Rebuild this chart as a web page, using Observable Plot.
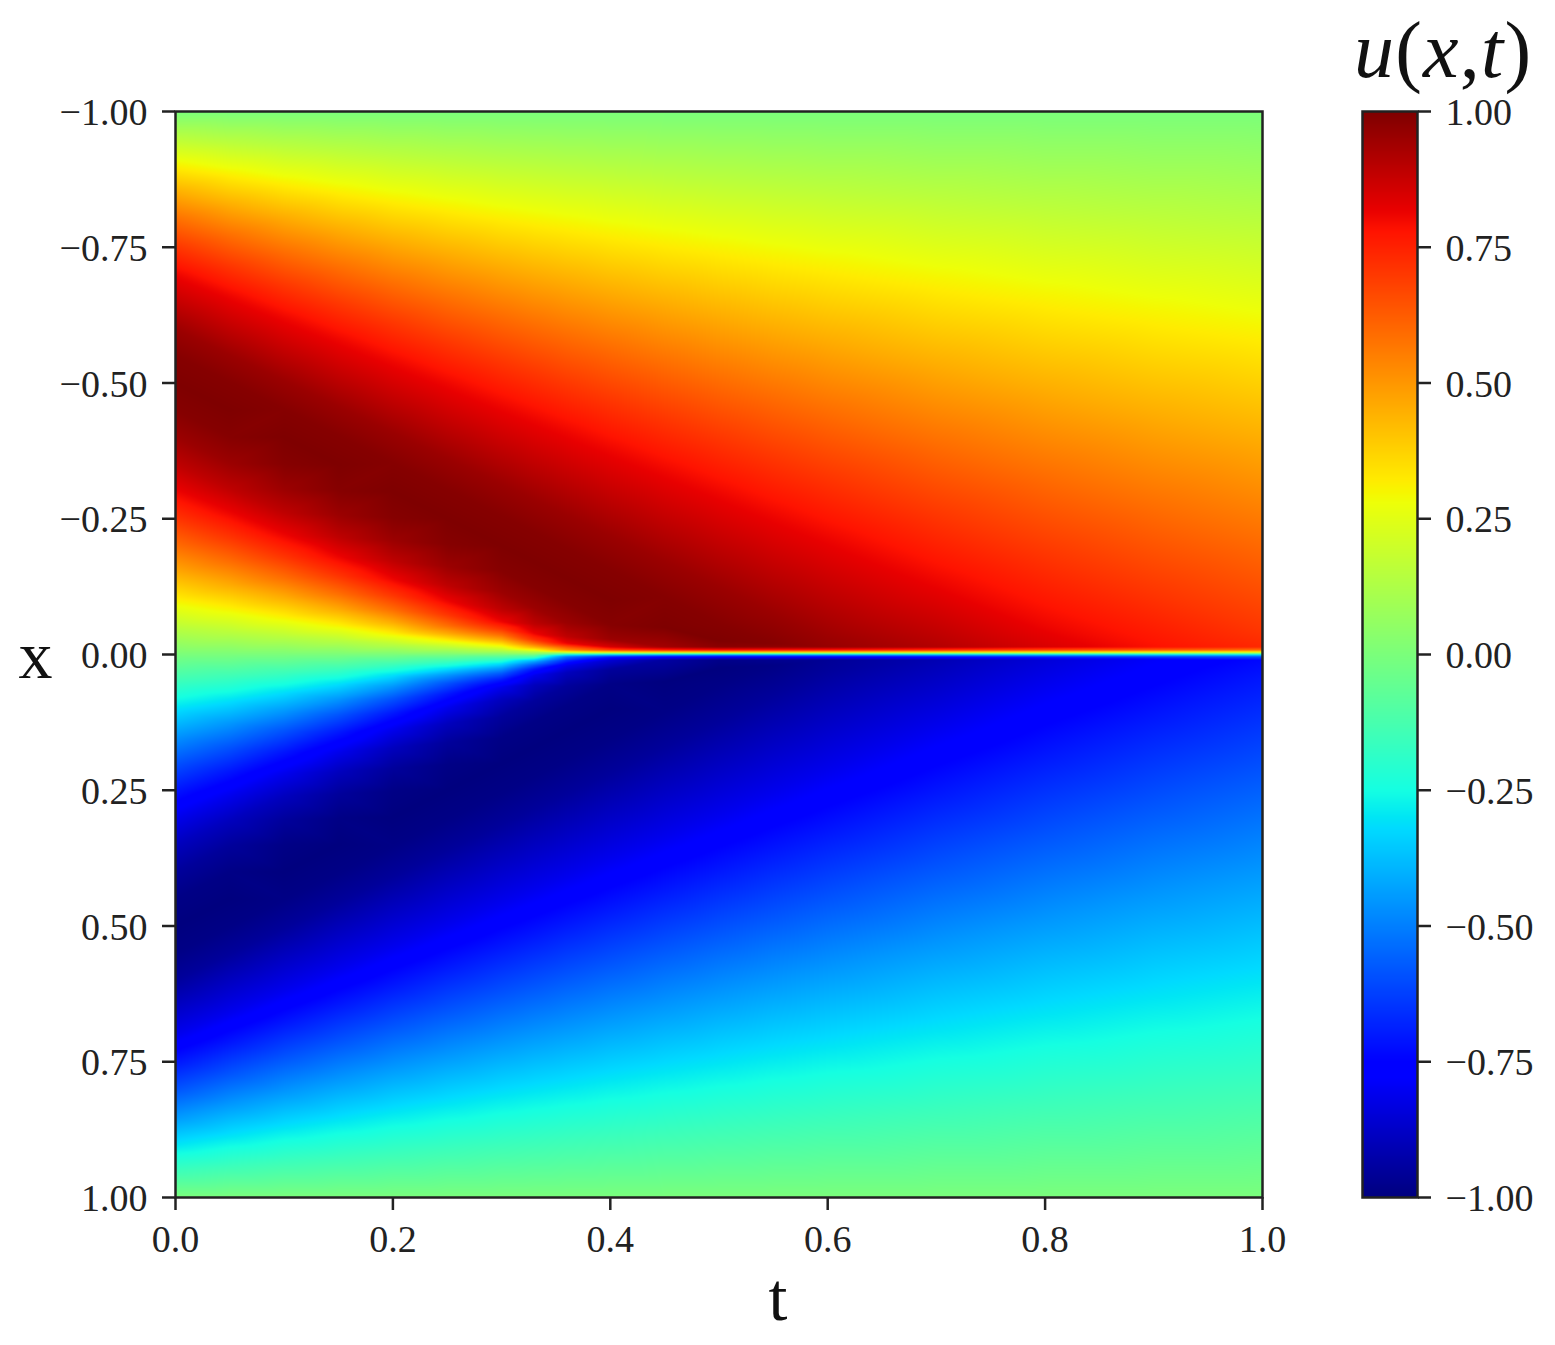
<!DOCTYPE html>
<html><head><meta charset="utf-8">
<script src="https://cdn.jsdelivr.net/npm/d3@7"></script>
<script src="https://cdn.jsdelivr.net/npm/@observablehq/plot@0.6"></script>
<style>
html,body{margin:0;padding:0;background:#fff}
#chart{position:relative;width:1555px;height:1345px;overflow:hidden}
#chart svg{position:absolute;left:0;top:0;background:transparent}
#chart figure{margin:0}
#ctitle{position:absolute;left:1354px;top:5px;font:80px/90px "Liberation Serif",serif;letter-spacing:1.2px;color:#111;white-space:nowrap}
</style></head><body><div id="chart"></div>
<script>
// time columns
const tColumns = [0,.05,.1,.15,.2,.25,.3,.33,.36,.4,.45,.5,.55,.6,.7,.8,.9,1];
// u levels whose band edges are read along each time column (x<0 side, x>0 side)
const levelsUp = [0,.156,.309,.454,.588,.707,.809,.951,.988,1,.988,.951,.891,.809,.707,.588,.454,.309,.156,0];
const levelsDn = [0,-.156,-.309,-.454,-.588,-.707,-.809,-.951,-.988,-1,-.988,-.951,-.891,-.809,-.707,-.588,-.454,-.309,-.156,0];
// x position of each level, per time column, above the shock
const up00 = [-1,-.95,-.9,-.85,-.8,-.75,-.7,-.6,-.55,-.5,-.45,-.4,-.35,-.3,-.25,-.2,-.15,-.1,-.05,0];
const up05 = [-1,-.942,-.885,-.827,-.771,-.715,-.66,-.552,-.501,-.45,-.401,-.352,-.305,-.26,-.215,-.171,-.127,-.085,-.042,0];
const up10 = [-1,-.934,-.869,-.805,-.741,-.679,-.619,-.505,-.451,-.4,-.351,-.305,-.261,-.219,-.179,-.141,-.105,-.069,-.034,0];
const up15 = [-1,-.927,-.854,-.782,-.712,-.644,-.579,-.457,-.402,-.35,-.302,-.257,-.216,-.179,-.144,-.112,-.082,-.054,-.027,0];
const up20 = [-1,-.919,-.838,-.759,-.682,-.609,-.538,-.41,-.352,-.3,-.252,-.21,-.172,-.138,-.109,-.082,-.059,-.038,-.019,0];
const up25 = [-1,-.911,-.823,-.737,-.653,-.573,-.498,-.362,-.303,-.25,-.203,-.162,-.127,-.098,-.073,-.053,-.038,-.026,-.013,0];
const up30 = [-1,-.903,-.807,-.714,-.624,-.538,-.457,-.315,-.254,-.2,-.154,-.115,-.083,-.06,-.047,-.036,-.026,-.017,-.008,0];
const up33 = [-1,-.899,-.798,-.7,-.606,-.517,-.433,-.286,-.224,-.17,-.124,-.086,-.056,-.038,-.027,-.02,-.014,-.009,-.005,0];
const up36 = [-1,-.894,-.789,-.687,-.588,-.495,-.409,-.258,-.194,-.14,-.094,-.058,-.033,-.02];
const up40 = [-1,-.888,-.776,-.668,-.565,-.467,-.376,-.22,-.155,-.1,-.055,-.028];
const up45 = [-1,-.88,-.761,-.646,-.535,-.432,-.336,-.172,-.105,-.05];
const up50 = [-1,-.872,-.746,-.623,-.506,-.397,-.296,-.125,-.056,-.025];
const up55 = [-1,-.864,-.73,-.6,-.477,-.361,-.255,-.077,-.02];
const up60 = [-1,-.856,-.715,-.578,-.447,-.326,-.215,-.03];
const up70 = [-1,-.841,-.684,-.532,-.388,-.255,-.134];
const up80 = [-1,-.825,-.653,-.487,-.33,-.184,-.053];
const up90 = [-1,-.81,-.622,-.441,-.271,-.114];
const up100 = [-1,-.794,-.591,-.396,-.212,-.043];
// x position of each level, per time column, below the shock
const dn00 = [1,.95,.9,.85,.8,.75,.7,.6,.55,.5,.45,.4,.35,.3,.25,.2,.15,.1,.05,0];
const dn05 = [1,.942,.885,.827,.771,.715,.66,.552,.501,.45,.401,.352,.305,.26,.215,.171,.127,.085,.042,0];
const dn10 = [1,.934,.869,.805,.741,.679,.619,.505,.451,.4,.351,.305,.261,.219,.179,.141,.105,.069,.034,0];
const dn15 = [1,.927,.854,.782,.712,.644,.579,.457,.402,.35,.302,.257,.216,.179,.144,.112,.082,.054,.027,0];
const dn20 = [1,.919,.838,.759,.682,.609,.538,.41,.352,.3,.252,.21,.172,.138,.109,.082,.059,.038,.019,0];
const dn25 = [1,.911,.823,.737,.653,.573,.498,.362,.303,.25,.203,.162,.127,.098,.073,.053,.038,.026,.013,0];
const dn30 = [1,.903,.807,.714,.624,.538,.457,.315,.254,.2,.154,.115,.083,.06,.047,.036,.026,.017,.008,0];
const dn33 = [1,.899,.798,.7,.606,.517,.433,.286,.224,.17,.124,.086,.056,.038,.027,.02,.014,.009,.005,0];
const dn36 = [1,.894,.789,.687,.588,.495,.409,.258,.194,.14,.094,.058,.033,.02];
const dn40 = [1,.888,.776,.668,.565,.467,.376,.22,.155,.1,.055,.028];
const dn45 = [1,.88,.761,.646,.535,.432,.336,.172,.105,.05];
const dn50 = [1,.872,.746,.623,.506,.397,.296,.125,.056,.025];
const dn55 = [1,.864,.73,.6,.477,.361,.255,.077,.02];
const dn60 = [1,.856,.715,.578,.447,.326,.215,.03];
const dn70 = [1,.841,.684,.532,.388,.255,.134];
const dn80 = [1,.825,.653,.487,.33,.184,.053];
const dn90 = [1,.81,.622,.441,.271,.114];
const dn100 = [1,.794,.591,.396,.212,.043];
// thin shock layer: |u| at the layer's edge per time column, and its profile
const layerEdge = [null,null,null,null,null,null,null,null,.65,.85,.94,.98,.97,.96,.91,.845,.785,.735];
const layerCentre = -.002;
const layerOffset = [.012,.006,.003];
const layerShare = [1,.78,.47];
// jet colour stops
const colorDomain = [-1,-.78,-.75,-.32,-.3,-.25,0,.28,.3,.32,.78,.82,1];
const colorRange = ["#00007f","#0000ff","#0000ff","#00dbff","#00e6f5","#15ffe2","#7bff7b","#eeff08","#f7f600","#ffec00","#ff1300","#e80000","#7f0000"];
// axes
const tTicks = [0,.2,.4,.6,.8,1];
const xTicks = [-1,-.75,-.5,-.25,0,.25,.5,.75,1];
const barStops = [-1,-.78,-.75,-.32,-.3,-.25,0,.28,.3,.32,.78,.82,1];

const upCols = [up00,up05,up10,up15,up20,up25,up30,up33,up36,up40,up45,up50,up55,up60,up70,up80,up90,up100];
const dnCols = [dn00,dn05,dn10,dn15,dn20,dn25,dn30,dn33,dn36,dn40,dn45,dn50,dn55,dn60,dn70,dn80,dn90,dn100];
const field = [];
tColumns.forEach((t, i) => {
  upCols[i].forEach((x, k) => field.push({t, x, u: levelsUp[k]}));
  dnCols[i].forEach((x, k) => field.push({t, x, u: levelsDn[k]}));
  if (layerEdge[i] != null) {
    layerOffset.forEach((d, k) => {
      field.push({t, x: layerCentre - d, u: layerEdge[i] * layerShare[k]});
      field.push({t, x: layerCentre + d, u: -layerEdge[i] * layerShare[k]});
    });
    field.push({t, x: layerCentre, u: 0});
  }
});
const barField = barStops.flatMap(v => [{p: 0, v}, {p: 1, v}]);

const font = '"Liberation Serif", serif';
const minus = f => v => f(v).replace("-", "\u2212");
const colorOpt = {type: "linear", domain: colorDomain, range: colorRange, clamp: true};
const ink = "#222";
const labelSize = 38;
const tickStyle = {ticks: xTicks, stroke: ink, strokeWidth: 2.5, label: null, tickFormat: () => ""};

const main = Plot.plot({
  width: 1555, height: 1345,
  marginLeft: 175, marginRight: 293, marginTop: 111, marginBottom: 148,
  style: {fontFamily: font, background: "transparent"},
  x: {domain: [0, 1]},
  y: {domain: [-1, 1], reverse: true},
  color: colorOpt,
  marks: [
    Plot.raster(field, {x: "t", y: "x", fill: "u", interpolate: "barycentric", pixelSize: 1}),
    Plot.frame({stroke: ink, strokeWidth: 2.5}),
    Plot.axisX({ticks: tTicks, tickSize: 13, tickPadding: 15, strokeWidth: 2.5, stroke: ink, fill: ink, fontSize: labelSize, label: null, tickFormat: d3.format(".1f")}),
    Plot.axisY({...tickStyle, tickSize: 13}),
    Plot.axisY({ticks: xTicks, tickSize: 0, tickPadding: 28, fill: ink, fontSize: labelSize, label: null, dy: 1.5, tickFormat: minus(d3.format(".2f"))}),
    Plot.text(["t"], {frameAnchor: "bottom", dx: 59, dy: 122, fontSize: 68, fill: "#111", lineAnchor: "bottom"}),
    Plot.text(["x"], {frameAnchor: "left", dx: -157, dy: 2, fontSize: 68, fill: "#111"})
  ]
});

const bar = Plot.plot({
  width: 1555, height: 1345,
  marginLeft: 1362, marginRight: 138, marginTop: 111, marginBottom: 148,
  style: {fontFamily: font, background: "transparent"},
  x: {domain: [0, 1], axis: null},
  y: {domain: [-1, 1]},
  color: colorOpt,
  marks: [
    Plot.raster(barField, {x: "p", y: "v", fill: "v", interpolate: "barycentric", pixelSize: 1}),
    Plot.frame({stroke: ink, strokeWidth: 2.5}),
    Plot.axisY({...tickStyle, anchor: "right", tickSize: 13}),
    Plot.axisY({anchor: "right", ticks: xTicks, tickSize: 0, tickPadding: 28, fill: ink, fontSize: labelSize, label: null, dy: 1.5, tickFormat: minus(d3.format(".2f"))})
  ]
});

const chart = document.getElementById("chart");
chart.append(main, bar);
const title = document.createElement("div");
title.id = "ctitle";
title.innerHTML = "<i>u</i>(<i>x</i>,<i>t</i>)";
chart.append(title);
</script></body></html>
